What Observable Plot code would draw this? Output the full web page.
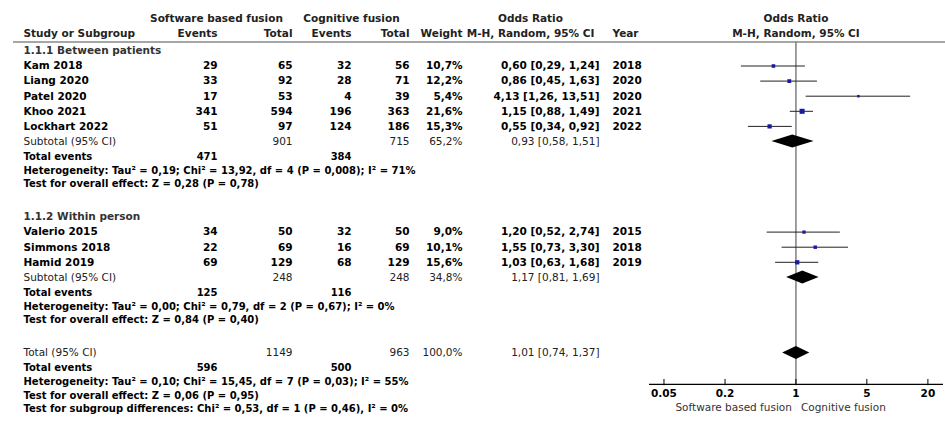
<!DOCTYPE html>
<html><head><meta charset="utf-8">
<script src="https://cdn.jsdelivr.net/npm/d3@7"></script>
<script src="https://cdn.jsdelivr.net/npm/@observablehq/plot@0.6"></script>
<style>
html,body{margin:0;padding:0;background:#fff;}
</style></head><body><div id="chart"></div>
<script>
// ---------------- data ----------------
const subgroupNames = ["1.1.1 Between patients", "1.1.2 Within person"];
const studyNames = ["Kam 2018","Liang 2020","Patel 2020","Khoo 2021","Lockhart 2022","Valerio 2015","Simmons 2018","Hamid 2019"];
const studyGroup = [0,0,0,0,0,1,1,1];
const swEvents = [29,33,17,341,51,34,22,69];
const swTotal  = [65,92,53,594,97,50,69,129];
const cgEvents = [32,28,4,196,124,32,16,68];
const cgTotal  = [56,71,39,363,186,50,69,129];
const weights  = [10.7,12.2,5.4,21.6,15.3,9.0,10.1,15.6];
const oddsRatio = [0.60,0.86,4.13,1.15,0.55,1.20,1.55,1.03];
const ciLow  = [0.29,0.45,1.26,0.88,0.34,0.52,0.73,0.63];
const ciHigh = [1.24,1.63,13.51,1.49,0.92,2.74,3.30,1.68];
const years  = [2018,2020,2020,2021,2022,2015,2018,2019];

const summaryLabels  = ["Subtotal (95% CI)","Subtotal (95% CI)","Total (95% CI)"];
const summarySwTotal = [901,248,1149];
const summaryCgTotal = [715,248,963];
const summaryWeight  = [65.2,34.8,100.0];
const summaryOR   = [0.93,1.17,1.01];
const summaryLow  = [0.58,0.81,0.74];
const summaryHigh = [1.51,1.69,1.37];
const eventsSw = [471,125,596];
const eventsCg = [384,116,500];
const heterogeneity = [
  "Heterogeneity: Tau² = 0,19; Chi² = 13,92, df = 4 (P = 0,008); I² = 71%",
  "Heterogeneity: Tau² = 0,00; Chi² = 0,79, df = 2 (P = 0,67); I² = 0%",
  "Heterogeneity: Tau² = 0,10; Chi² = 15,45, df = 7 (P = 0,03); I² = 55%"
];
const overallEffect = [
  "Test for overall effect: Z = 0,28 (P = 0,78)",
  "Test for overall effect: Z = 0,84 (P = 0,40)",
  "Test for overall effect: Z = 0,06 (P = 0,95)"
];
const subgroupDifferences = "Test for subgroup differences: Chi² = 0,53, df = 1 (P = 0,46), I² = 0%";
const totalEventsLabel = "Total events";

const headerGroups = ["Software based fusion","Cognitive fusion","Odds Ratio"];
const headerCols = ["Study or Subgroup","Events","Total","Events","Total","Weight","M-H, Random, 95% CI","Year"];
const plotHeader = ["Odds Ratio","M-H, Random, 95% CI"];
const tickValues = [0.05,0.2,1,5,20];
const tickLabels = ["0.05","0.2","1","5","20"];
const favoursLeft = "Software based fusion";
const favoursRight = "Cognitive fusion";
const nullValue = 1;

// ---------------- layout ----------------
const xDomain = [0.036, 28.5];
const R = {head1: -3.11, head2: -2.13, rule: -1.59, axis: 21.09};
const groupStartRow = [-1, 10];
const totalRow = 19;
const noteOffsets = [1, 1.92, 2.82, 3.72];

const dec = v => v.toFixed(2).replace(".", ",");
const pct = v => v.toFixed(1).replace(".", ",") + "%";

const cells = [];
const studyData = [];
const summaryData = [];
const add = (row, col, text, st) => cells.push({row, col, text: String(text), st});

// headers
add(R.head1, "swHead", headerGroups[0], "head");
add(R.head1, "cgHead", headerGroups[1], "head");
add(R.head1, "orHead", headerGroups[2], "head");
["label","swE","swT","cgE","cgT","w","orHead","year"].forEach((c, i) => add(R.head2, c, headerCols[i], "head"));

function addSummary(k, row) {
  summaryData.push({row, k, or: summaryOR[k], lo: summaryLow[k], hi: summaryHigh[k]});
  add(row, "label", summaryLabels[k], "summary");
  add(row, "swT", summarySwTotal[k], "summary");
  add(row, "cgT", summaryCgTotal[k], "summary");
  add(row, "w", pct(summaryWeight[k]), "summary");
  add(row, "or", `${dec(summaryOR[k])} [${dec(summaryLow[k])}, ${dec(summaryHigh[k])}]`, "summary");
  add(row + noteOffsets[0], "label", totalEventsLabel, "note");
  add(row + noteOffsets[0], "swE", eventsSw[k], "note");
  add(row + noteOffsets[0], "cgE", eventsCg[k], "note");
  add(row + noteOffsets[1], "label", heterogeneity[k], "note");
  add(row + noteOffsets[2], "label", overallEffect[k], "note");
}

[0, 1].forEach(g => {
  let row = groupStartRow[g];
  add(row, "label", subgroupNames[g], "group");
  studyNames.forEach((name, i) => {
    if (studyGroup[i] !== g) return;
    row += 1;
    studyData.push({row, or: oddsRatio[i], lo: ciLow[i], hi: ciHigh[i], w: weights[i]});
    add(row, "label", name, "study");
    add(row, "swE", swEvents[i], "study");
    add(row, "swT", swTotal[i], "study");
    add(row, "cgE", cgEvents[i], "study");
    add(row, "cgT", cgTotal[i], "study");
    add(row, "w", pct(weights[i]), "study");
    add(row, "or", `${dec(oddsRatio[i])} [${dec(ciLow[i])}, ${dec(ciHigh[i])}]`, "study");
    add(row, "year", years[i], "study");
  });
  addSummary(g, row + 1);
});
addSummary(2, totalRow);
add(totalRow + noteOffsets[3], "label", subgroupDifferences, "note");

const colSpec = {
  label: {x: 23, anchor: "start"},
  swE: {x: 217, anchor: "end"},
  swT: {x: 292, anchor: "end"},
  cgE: {x: 351, anchor: "end"},
  cgT: {x: 409, anchor: "end"},
  w: {x: 462, anchor: "end"},
  or: {x: 599, anchor: "end"},
  year: {x: 612, anchor: "start"},
  swHead: {x: 216, anchor: "middle"},
  cgHead: {x: 351, anchor: "middle"},
  orHead: {x: 530, anchor: "middle"}
};
const styles = {
  head:    {fontWeight: "bold",   fill: "#222", fontSize: 10.5},
  group:   {fontWeight: "bold",   fill: "#333", fontSize: 10.5},
  study:   {fontWeight: "bold",   fill: "#000", fontSize: 10.5},
  summary: {fontWeight: "normal", fill: "#222", fontSize: 10.5},
  note:    {fontWeight: "bold",   fill: "#000", fontSize: 10}
};

const textMarks = d3.groups(cells, d => d.col + "|" + d.st).map(([key, arr]) => {
  const [col, st] = key.split("|");
  return Plot.text(arr, {
    y: "row", text: "text", frameAnchor: "left",
    dx: colSpec[col].x, textAnchor: colSpec[col].anchor, ...styles[st]
  });
});

// diamonds
const diamondPts = summaryData.flatMap(s => [
  {k: s.k, x: s.lo, y1: s.row, y2: s.row},
  {k: s.k, x: s.or, y1: s.row - 0.43, y2: s.row + 0.43},
  {k: s.k, x: s.hi, y1: s.row, y2: s.row}
]);

const chart = Plot.plot({
  width: 945, height: 423,
  marginTop: 0, marginBottom: 0, marginLeft: 0, marginRight: 0,
  style: {fontFamily: "'DejaVu Sans', Verdana, sans-serif", background: "#fff"},
  x: {type: "log", domain: xDomain, range: [649, 943], axis: null},
  y: {domain: [0, 23], range: [65.5, 412.8], axis: null},
  r: {type: "sqrt", domain: [0, 21.6], range: [0, 2.85]},
  marks: [
    Plot.ruleY([R.rule], {stroke: "#888", strokeWidth: 1.5, insetLeft: 13}),
    Plot.ruleX([nullValue], {y1: () => R.rule, y2: () => R.axis, stroke: "#888", strokeWidth: 1.6}),
    Plot.ruleY(studyData, {y: "row", x1: "lo", x2: "hi", stroke: "#222", strokeWidth: 1}),
    Plot.dot(studyData, {x: "or", y: "row", r: "w", symbol: "square", fill: "#1a1aa0", stroke: null}),
    Plot.areaY(diamondPts, {x: "x", y1: "y1", y2: "y2", z: "k", fill: "#000"}),
    Plot.ruleY([R.axis], {x1: () => xDomain[0], x2: () => xDomain[1], stroke: "#000", strokeWidth: 1.2}),
    Plot.ruleX(tickValues, {x: d => d, y1: () => R.axis - 0.33, y2: () => R.axis + 0.08, stroke: "#000"}),
    Plot.text(tickValues, {x: d => d, y: () => R.axis, dy: 9, text: (d, i) => tickLabels[i], fontWeight: "bold", fontSize: 10.5, fill: "#000"}),
    Plot.text([favoursLeft], {x: () => nullValue, y: () => R.axis, dy: 23, dx: -4, textAnchor: "end", text: d => d, fontSize: 10.5, fill: "#333"}),
    Plot.text([favoursRight], {x: () => nullValue, y: () => R.axis, dy: 23, dx: 5, textAnchor: "start", text: d => d, fontSize: 10.5, fill: "#333"}),
    Plot.text(plotHeader, {x: () => nullValue, y: (d, i) => [R.head1, R.head2][i], text: d => d, ...styles.head}),
    ...textMarks
  ]
});
document.getElementById("chart").appendChild(chart);
</script></body></html>
